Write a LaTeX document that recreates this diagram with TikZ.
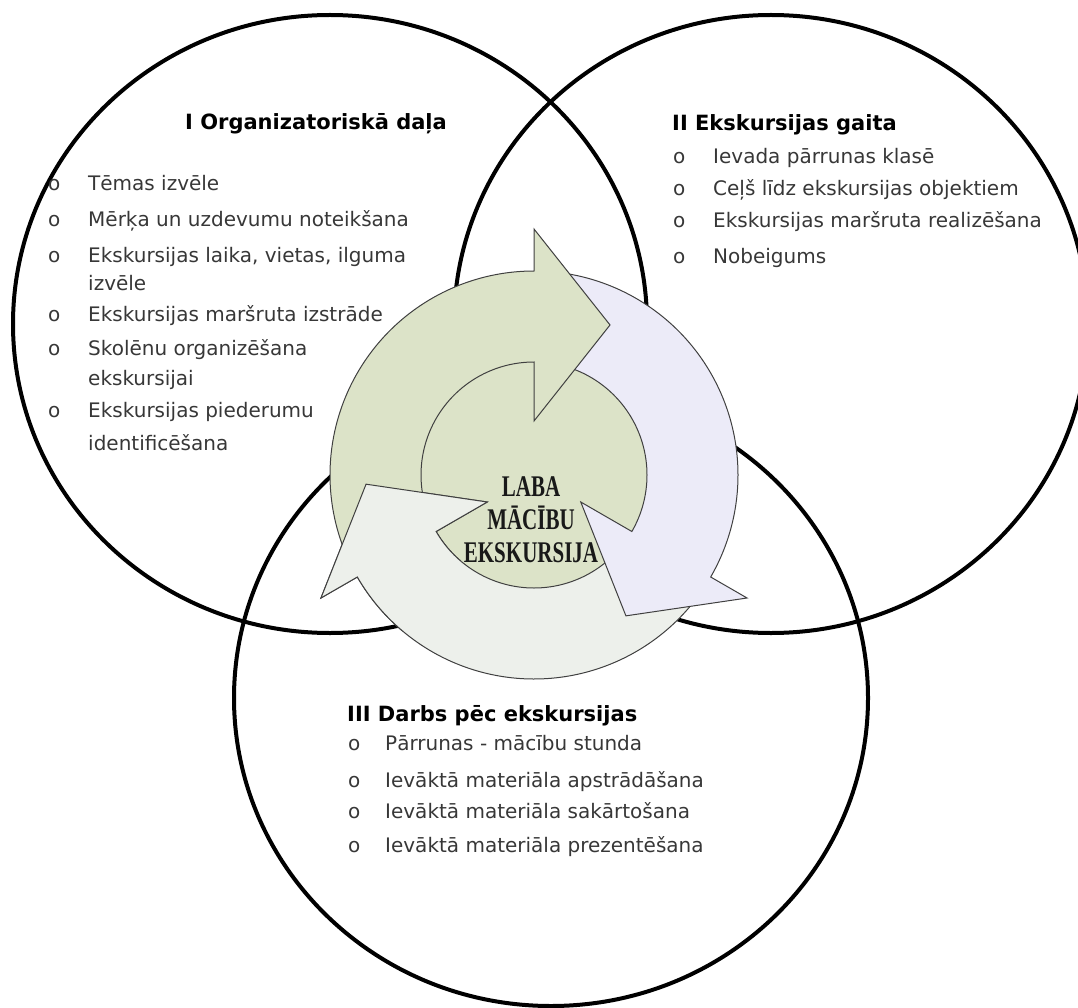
\documentclass[tikz,border=0pt]{standalone}
\usepackage{fontspec}
\setmainfont{DejaVu Sans}
\newfontfamily\labafont{Liberation Serif}[FakeStretch=0.7]
\definecolor{leaf}{RGB}{220,227,200}
\definecolor{lilac}{RGB}{236,235,248}
\definecolor{mist}{RGB}{237,240,235}
\definecolor{ink}{RGB}{55,55,55}

\begin{document}
\begin{tikzpicture}[x=1pt,y=-1pt,
  ring/.style={black,line width=4pt},
  band/.style={draw=black!75,line width=1pt},
  title/.style={anchor=base west,inner sep=0pt,font=\fontsize{21}{25}\selectfont\bfseries},
  item/.style={anchor=base west,inner sep=0pt,text=ink,font=\fontsize{20}{24}\selectfont},
  bul/.style={item}]
\useasboundingbox (0,0) rectangle (1078,1008);
% the three circles
\draw[ring] (330,324) ellipse [x radius=317, y radius=309];
\draw[ring] (771,324) ellipse [x radius=317, y radius=309];
\draw[ring] (551,698) ellipse [x radius=317, y radius=308];
% cycle of three arrows
\begin{scope}[shift={(534,475)},y=1pt]
  \fill[leaf] (0,0) circle [radius=113];
  \filldraw[band,fill=mist] (-35:204) arc[start angle=-35,end angle=-150,radius=204] -- (-150:246) -- (-176.87:168.2) -- (-150:54) -- (-150:113) arc[start angle=-150,end angle=-35,radius=113] -- cycle;
  \filldraw[band,fill=lilac] (85:204) arc[start angle=85,end angle=-30,radius=204] -- (-30:246) -- (-56.87:168.2) -- (-30:54) -- (-30:113) arc[start angle=-30,end angle=85,radius=113] -- cycle;
  \filldraw[band,fill=leaf] (205:204) arc[start angle=205,end angle=90,radius=204] -- (90:246) -- (63.13:168.2) -- (90:54) -- (90:113) arc[start angle=90,end angle=205,radius=113] -- cycle;
  % grey head lies over the green tail
  \begin{scope}
    \clip (0,0) -- (170:300) arc[start angle=170,end angle=230,radius=300] -- cycle;
    \filldraw[band,fill=mist] (-35:204) arc[start angle=-35,end angle=-150,radius=204] -- (-150:246) -- (-176.87:168.2) -- (-150:54) -- (-150:113) arc[start angle=-150,end angle=-35,radius=113] -- cycle;
  \end{scope}
\end{scope}
\node[font=\labafont\bfseries\fontsize{30}{33}\selectfont,align=center,inner sep=0pt,text=black!90] (laba) at (531,520) {LABA\\MĀCĪBU\\EKSKURSIJA};
% I
\node[title] (h1) at (185,130) {I Organizatoriskā daļa};
\foreach \y in {191,227,262,321,355,417}
  \node[bul] (b1-\y) at (48,\y) {o};
\node[item] (t11) at (88,191) {Tēmas izvēle};
\node[item] (t12) at (88,227) {Mērķa un uzdevumu noteikšana};
\node[item] (t13) at (88,262) {Ekskursijas laika, vietas, ilguma};
\node[item] (t13b) at (88,290) {izvēle};
\node[item] (t14) at (88,321) {Ekskursijas maršruta izstrāde};
\node[item] (t15) at (88,355) {Skolēnu organizēšana};
\node[item] (t15b) at (88,385) {ekskursijai};
\node[item] (t16) at (88,417) {Ekskursijas piederumu};
\node[item] (t16b) at (88,450) {identificēšana};
% II
\node[title] (h2) at (672,131) {II Ekskursijas gaita};
\foreach \y in {164,196,228,263}
  \node[bul] (b2-\y) at (673,\y) {o};
\node[item] (t21) at (713,164) {Ievada pārrunas klasē};
\node[item] (t22) at (713,196) {Ceļš līdz ekskursijas objektiem};
\node[item] (t23) at (713,228) {Ekskursijas maršruta realizēšana};
\node[item] (t24) at (713,263) {Nobeigums};
% III
\node[title] (h3) at (347,721) {III Darbs pēc ekskursijas};
\foreach \y in {750,787,818,852}
  \node[bul] (b3-\y) at (348,\y) {o};
\node[item] (t31) at (385,750) {Pārrunas - mācību stunda};
\node[item] (t32) at (385,787) {Ievāktā materiāla apstrādāšana};
\node[item] (t33) at (385,818) {Ievāktā materiāla sakārtošana};
\node[item] (t34) at (385,852) {Ievāktā materiāla prezentēšana};
\end{tikzpicture}
\end{document}
